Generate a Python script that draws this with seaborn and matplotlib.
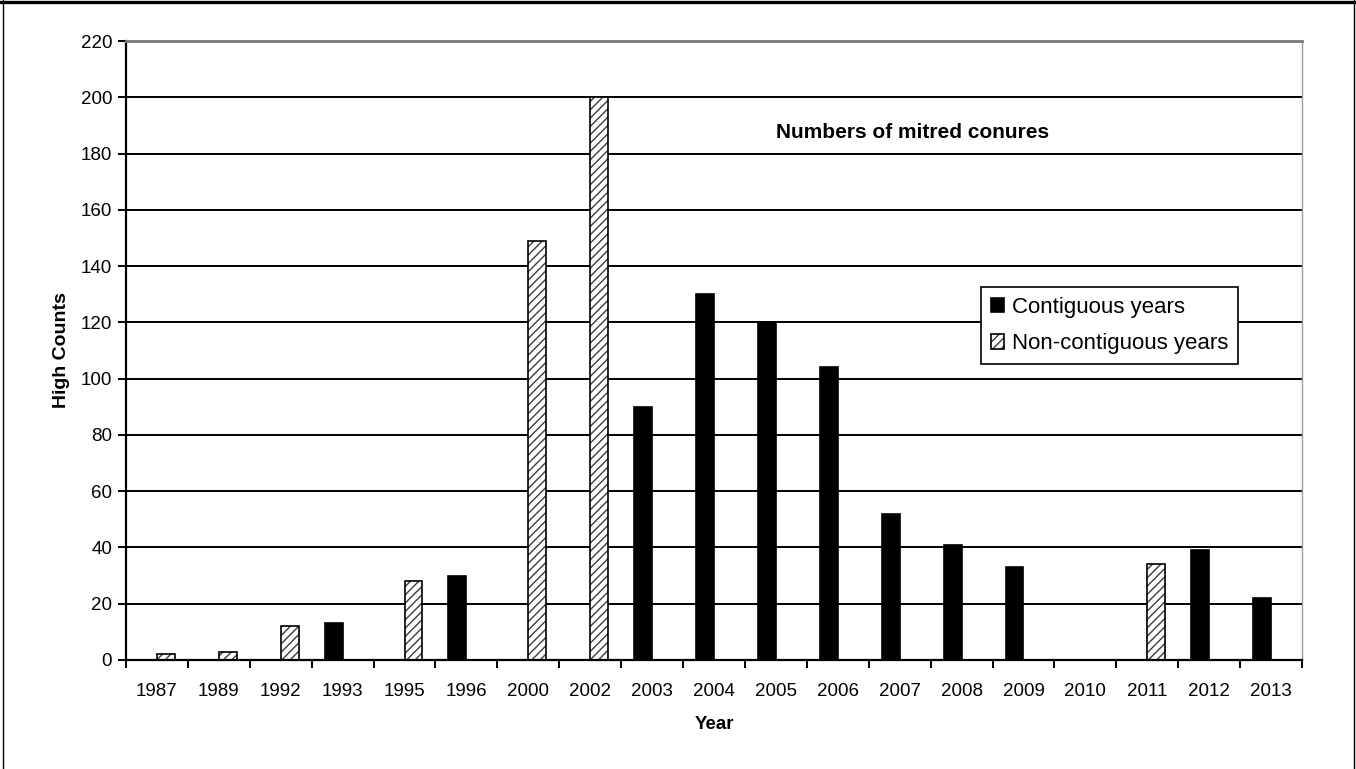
import matplotlib
matplotlib.use("Agg")
import matplotlib.pyplot as plt
import matplotlib.colors as mcolors
from matplotlib.lines import Line2D
from matplotlib.ticker import FixedLocator, MultipleLocator
import pandas as pd
import seaborn as sns

# High counts of mitred conures per survey year
years = ["1987", "1989", "1992", "1993", "1995", "1996", "2000", "2002", "2003",
         "2004", "2005", "2006", "2007", "2008", "2009", "2010", "2011", "2012", "2013"]
contiguous = [0, 0, 0, 13, 0, 30, 0, 0, 90, 130, 120, 104, 52, 41, 33, 0, 0, 39, 22]
non_contiguous = [2, 3, 12, 0, 28, 0, 149, 200, 0, 0, 0, 0, 0, 0, 0, 0, 34, 0, 0]
series_names = ["Contiguous years", "Non-contiguous years"]
y_ticks = list(range(0, 221, 20))

df = pd.DataFrame({
    "Year": years * 2,
    "High Counts": contiguous + non_contiguous,
    "Series": [series_names[0]] * len(years) + [series_names[1]] * len(years),
})

sns.set_theme(style="white")
plt.rcParams["font.family"] = ["Liberation Sans", "DejaVu Sans"]
plt.rcParams["hatch.linewidth"] = 1.0

W, H = 1356, 769
fig = plt.figure(figsize=(W / 100, H / 100), dpi=100)
fig.patch.set_facecolor("white")
ax = fig.add_axes([126 / W, 1 - 660 / H, 1176 / W, 619 / H])

sns.barplot(data=df, x="Year", y="High Counts", hue="Series", hue_order=series_names,
            order=years, palette=["black", "white"], width=0.58, dodge=True,
            saturation=1, edgecolor="black", linewidth=1.2, ax=ax, legend=False,
            errorbar=None)

# diagonal hatch for the non-contiguous series
for bar in ax.containers[1]:
    bar.set_hatch("////")
    bar._hatch_color = mcolors.to_rgba("#3c3c3c")

ax.set_ylim(0, 220)
ax.set_xlim(-0.5, len(years) - 0.5)
ax.yaxis.set_major_locator(FixedLocator(y_ticks))
ax.grid(axis="y", color="black", linewidth=1.4)
ax.set_axisbelow(True)

# category ticks sit between the bars
ax.xaxis.set_minor_locator(MultipleLocator(1, offset=0.5))
ax.tick_params(axis="x", which="major", length=0, pad=16.5, labelsize=13.5, colors="black")
ax.tick_params(axis="x", which="minor", bottom=True, length=6, width=1.4, direction="out", color="black")
ax.tick_params(axis="y", which="major", left=True, length=6, width=1.4, direction="out",
               pad=4, labelsize=13.5, colors="black")

for side in ["left", "bottom"]:
    ax.spines[side].set_color("black")
    ax.spines[side].set_linewidth(1.6)
ax.spines["top"].set_color("#7a7a7a")
ax.spines["top"].set_linewidth(2.0)
ax.spines["top"].set_zorder(5)
ax.spines["right"].set_color("#9a9a9a")
ax.spines["right"].set_linewidth(1.0)

ax.set_xlabel("Year", fontsize=13.5, fontweight="bold", color="black")
ax.xaxis.set_label_coords(0.5, -0.0905)
ax.set_ylabel("High Counts", fontsize=14, fontweight="bold", color="black")
ax.yaxis.set_label_coords(-0.048, 0.5)

ax.text(0.669, 0.8515, "Numbers of mitred conures", transform=ax.transAxes,
        ha="center", va="center", fontsize=15, fontweight="bold", color="black")

leg = ax.legend(handles=[ax.containers[0], ax.containers[1]], labels=series_names,
                loc="upper left", bbox_to_anchor=(0.727, 0.603), fontsize=16,
                frameon=True, fancybox=False, framealpha=1, edgecolor="black",
                handlelength=0.6, handleheight=0.6, handletextpad=0.35,
                borderpad=0.45, labelspacing=0.7, borderaxespad=0)
leg.get_frame().set_linewidth(1.2)
for t in leg.get_texts():
    t.set_color("black")

# outer frame around the chart area
fig.add_artist(Line2D([0, 1], [1 - 1.5 / H, 1 - 1.5 / H], transform=fig.transFigure,
                      color="black", linewidth=2.4))
fig.add_artist(Line2D([2.5 / W, 2.5 / W], [0, 1], transform=fig.transFigure,
                      color="black", linewidth=1.0))
fig.add_artist(Line2D([1 - 2.5 / W, 1 - 2.5 / W], [0, 1], transform=fig.transFigure,
                      color="black", linewidth=1.0))

fig.savefig("out.png", dpi=100, facecolor="white")
